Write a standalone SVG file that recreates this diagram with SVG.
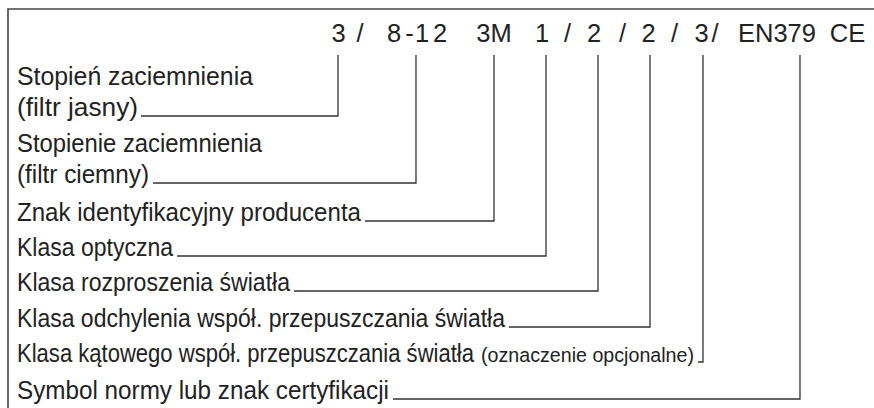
<svg xmlns="http://www.w3.org/2000/svg" width="874" height="408" viewBox="0 0 874 408">
<style>
.t{font-family:"Liberation Sans",Arial,sans-serif;font-size:25px;fill:#222}
.s{font-size:20.5px}
.h{font-family:"Liberation Sans",Arial,sans-serif;font-size:25.5px;fill:#222;text-anchor:middle}
.c{fill:none;stroke:#333;stroke-width:1.3}
.f{fill:none;stroke:#444;stroke-width:1.6}
</style>
<rect width="874" height="408" fill="#fff"/>
<path class="f" d="M8,408 V9 H874"/>
<g id="code">
<text class="h" y="42"><tspan x="338.5">3</tspan><tspan x="360">/</tspan><tspan x="394">8</tspan><tspan x="409.5">-</tspan><tspan x="422">1</tspan><tspan x="440">2</tspan><tspan x="494">3M</tspan><tspan x="542">1</tspan><tspan x="567.5">/</tspan><tspan x="594">2</tspan><tspan x="622.5">/</tspan><tspan x="648.5">2</tspan><tspan x="674.5">/</tspan><tspan x="701.5">3</tspan><tspan x="715">/</tspan><tspan x="777">EN379</tspan><tspan x="847.5">CE</tspan></text>
</g>
<g id="n1"><text class="t" x="17" y="85" textLength="236" lengthAdjust="spacingAndGlyphs">Stopień zaciemnienia</text><text class="t" x="17" y="116" textLength="121" lengthAdjust="spacingAndGlyphs">(filtr jasny)</text></g>
<g id="n2"><text class="t" x="17" y="152" textLength="245" lengthAdjust="spacingAndGlyphs">Stopienie zaciemnienia</text><text class="t" x="17" y="183" textLength="132" lengthAdjust="spacingAndGlyphs">(filtr ciemny)</text></g>
<g id="n3"><text class="t" x="17" y="221" textLength="344" lengthAdjust="spacingAndGlyphs">Znak identyfikacyjny producenta</text></g>
<g id="n4"><text class="t" x="17" y="256" textLength="156" lengthAdjust="spacingAndGlyphs">Klasa optyczna</text></g>
<g id="n5"><text class="t" x="17" y="291" textLength="273" lengthAdjust="spacingAndGlyphs">Klasa rozproszenia światła</text></g>
<g id="n6"><text class="t" x="17" y="327" textLength="488" lengthAdjust="spacingAndGlyphs">Klasa odchylenia współ. przepuszczania światła</text></g>
<g id="n7"><text class="t" x="17" y="362"><tspan textLength="457" lengthAdjust="spacingAndGlyphs">Klasa kątowego współ. przepuszczania światła</tspan><tspan class="s" x="481" textLength="213" lengthAdjust="spacingAndGlyphs">(oznaczenie opcjonalne)</tspan></text></g>
<g id="n8"><text class="t" x="17" y="399" textLength="372" lengthAdjust="spacingAndGlyphs">Symbol normy lub znak certyfikacji</text></g>
<g id="connectors">
<path class="c" d="M141,116 H338 V55"/>
<path class="c" d="M153,183 H416 V55"/>
<path class="c" d="M365,221 H494 V55"/>
<path class="c" d="M177,256 H546 V55"/>
<path class="c" d="M294,291 H598 V55"/>
<path class="c" d="M509,327 H650 V55"/>
<path class="c" d="M698,362 H703 V55"/>
<path class="c" d="M393,399 H800 V55"/>
</g>
</svg>
